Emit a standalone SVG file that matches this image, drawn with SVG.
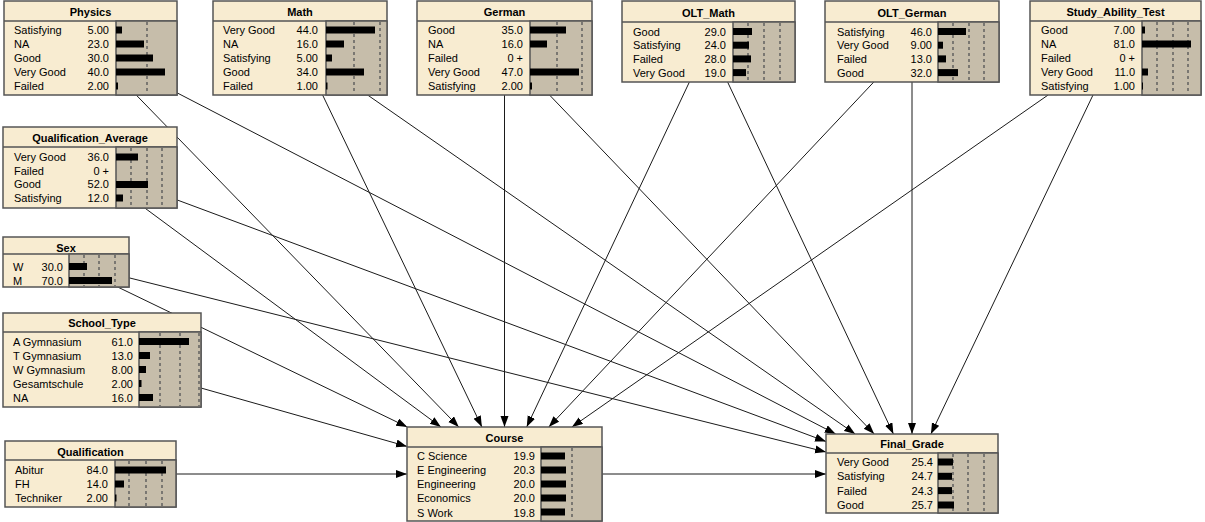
<svg xmlns="http://www.w3.org/2000/svg" width="1205" height="522" viewBox="0 0 1205 522">
<style>
text{font-family:"Liberation Sans",Arial,sans-serif;font-size:11px;fill:#000}
.t{font-weight:bold;text-anchor:middle}
.v{text-anchor:end}
.box{fill:#f8ecd1;stroke:#555;stroke-width:1.5}
.gr{fill:#c6bdaa;stroke:#555;stroke-width:1.5}
.sep{stroke:#555;stroke-width:1.5}
.d{stroke:#5a5a5a;stroke-width:1.4;stroke-dasharray:3,3}
.b{fill:#000}
.e{stroke:#1a1a1a;stroke-width:1;fill:none;marker-end:url(#ah)}
</style>
<defs>
<marker id="ah" markerUnits="userSpaceOnUse" markerWidth="12" markerHeight="9" refX="11" refY="4" orient="auto">
<path d="M0,0 L11,4 L0,8 z" fill="#000"/>
</marker>
</defs>
<rect width="1205" height="522" fill="#fff"/>
<g id="connectors">
<line class="e" x1="136.2" y1="95" x2="458.8" y2="427"/>
<line class="e" x1="322.6" y1="95" x2="481.9" y2="427"/>
<line class="e" x1="504.5" y1="95" x2="504.5" y2="427"/>
<line class="e" x1="689.4" y1="82" x2="526.7" y2="427"/>
<line class="e" x1="873.8" y1="82" x2="548.8" y2="427"/>
<line class="e" x1="1048.1" y1="95" x2="571.9" y2="427"/>
<line class="e" x1="144.8" y1="208" x2="440.9" y2="427"/>
<line class="e" x1="117.7" y1="287" x2="407.3" y2="427"/>
<line class="e" x1="201" y1="388" x2="407" y2="446.4"/>
<line class="e" x1="176" y1="474" x2="407" y2="474"/>
<line class="e" x1="177" y1="92.8" x2="835.7" y2="434"/>
<line class="e" x1="367.6" y1="95" x2="855.2" y2="434"/>
<line class="e" x1="549.5" y1="95" x2="874.2" y2="434"/>
<line class="e" x1="727.6" y1="82" x2="893.4" y2="434"/>
<line class="e" x1="912" y1="82" x2="912" y2="434"/>
<line class="e" x1="1093" y1="95" x2="930.9" y2="434"/>
<line class="e" x1="177" y1="199.9" x2="826" y2="441.5"/>
<line class="e" x1="129" y1="277.8" x2="826" y2="452"/>
<line class="e" x1="602" y1="474" x2="826" y2="474"/>
</g>

<g id="physics">
<rect class="box" x="4" y="1" width="173" height="94"/>
<line class="sep" x1="4" y1="21" x2="177" y2="21"/>
<rect class="gr" x="116" y="21" width="61" height="74"/>
<line class="d" x1="147" y1="22" x2="147" y2="94"/>
<rect class="b" x="116" y="26.5" width="6" height="7"/>
<rect class="b" x="116" y="40.5" width="28" height="7"/>
<rect class="b" x="116" y="54.5" width="37" height="7"/>
<rect class="b" x="116" y="68.5" width="49" height="7"/>
<rect class="b" x="116" y="82.5" width="2" height="7"/>
<text class="t" x="90.5" y="16">Physics</text>
<text x="14" y="34">Satisfying</text><text class="v" x="109" y="34">5.00</text>
<text x="14" y="48">NA</text><text class="v" x="109" y="48">23.0</text>
<text x="14" y="62">Good</text><text class="v" x="109" y="62">30.0</text>
<text x="14" y="76">Very Good</text><text class="v" x="109" y="76">40.0</text>
<text x="14" y="90">Failed</text><text class="v" x="109" y="90">2.00</text>
</g>

<g id="math">
<rect class="box" x="213" y="1" width="174" height="94"/>
<line class="sep" x1="213" y1="21" x2="387" y2="21"/>
<rect class="gr" x="326" y="21" width="61" height="74"/>
<line class="d" x1="354" y1="22" x2="354" y2="94"/>
<line class="d" x1="380" y1="22" x2="380" y2="94"/>
<rect class="b" x="326" y="26.5" width="49" height="7"/>
<rect class="b" x="326" y="40.5" width="18" height="7"/>
<rect class="b" x="326" y="54.5" width="6" height="7"/>
<rect class="b" x="326" y="68.5" width="38" height="7"/>
<rect class="b" x="326" y="82.5" width="1.5" height="7"/>
<text class="t" x="300" y="16">Math</text>
<text x="223" y="34">Very Good</text><text class="v" x="318" y="34">44.0</text>
<text x="223" y="48">NA</text><text class="v" x="318" y="48">16.0</text>
<text x="223" y="62">Satisfying</text><text class="v" x="318" y="62">5.00</text>
<text x="223" y="76">Good</text><text class="v" x="318" y="76">34.0</text>
<text x="223" y="90">Failed</text><text class="v" x="318" y="90">1.00</text>
</g>

<g id="german">
<rect class="box" x="417" y="1" width="175" height="94"/>
<line class="sep" x1="417" y1="21" x2="592" y2="21"/>
<rect class="gr" x="530" y="21" width="62" height="74"/>
<line class="d" x1="557" y1="22" x2="557" y2="94"/>
<line class="d" x1="582" y1="22" x2="582" y2="94"/>
<rect class="b" x="530" y="26.5" width="36" height="7"/>
<rect class="b" x="530" y="40.5" width="17" height="7"/>
<rect class="b" x="530" y="68.5" width="49" height="7"/>
<rect class="b" x="530" y="82.5" width="2" height="7"/>
<text class="t" x="504.5" y="16">German</text>
<text x="428" y="34">Good</text><text class="v" x="523" y="34">35.0</text>
<text x="428" y="48">NA</text><text class="v" x="523" y="48">16.0</text>
<text x="428" y="62">Failed</text><text class="v" x="523" y="62">0 +</text>
<text x="428" y="76">Very Good</text><text class="v" x="523" y="76">47.0</text>
<text x="428" y="90">Satisfying</text><text class="v" x="523" y="90">2.00</text>
</g>

<g id="olt_math">
<rect class="box" x="622" y="1" width="173" height="81"/>
<line class="sep" x1="622" y1="22" x2="795" y2="22"/>
<rect class="gr" x="733" y="22" width="62" height="60"/>
<line class="d" x1="748" y1="23" x2="748" y2="81"/>
<line class="d" x1="764" y1="23" x2="764" y2="81"/>
<line class="d" x1="780" y1="23" x2="780" y2="81"/>
<rect class="b" x="733" y="28" width="19" height="7"/>
<rect class="b" x="733" y="41.7" width="16" height="7"/>
<rect class="b" x="733" y="55.4" width="18" height="7"/>
<rect class="b" x="733" y="69.1" width="13" height="7"/>
<text class="t" x="708.5" y="17">OLT_Math</text>
<text x="633" y="35.5">Good</text><text class="v" x="726" y="35.5">29.0</text>
<text x="633" y="49.2">Satisfying</text><text class="v" x="726" y="49.2">24.0</text>
<text x="633" y="62.9">Failed</text><text class="v" x="726" y="62.9">28.0</text>
<text x="633" y="76.6">Very Good</text><text class="v" x="726" y="76.6">19.0</text>
</g>

<g id="olt_german">
<rect class="box" x="825" y="1" width="174" height="81"/>
<line class="sep" x1="825" y1="22" x2="999" y2="22"/>
<rect class="gr" x="938" y="22" width="61" height="60"/>
<line class="d" x1="953" y1="23" x2="953" y2="81"/>
<line class="d" x1="969" y1="23" x2="969" y2="81"/>
<line class="d" x1="984" y1="23" x2="984" y2="81"/>
<rect class="b" x="938" y="28" width="28" height="7"/>
<rect class="b" x="938" y="41.7" width="5" height="7"/>
<rect class="b" x="938" y="55.4" width="8" height="7"/>
<rect class="b" x="938" y="69.1" width="20" height="7"/>
<text class="t" x="912" y="17">OLT_German</text>
<text x="837" y="35.5">Satisfying</text><text class="v" x="932" y="35.5">46.0</text>
<text x="837" y="49.2">Very Good</text><text class="v" x="932" y="49.2">9.00</text>
<text x="837" y="62.9">Failed</text><text class="v" x="932" y="62.9">13.0</text>
<text x="837" y="76.6">Good</text><text class="v" x="932" y="76.6">32.0</text>
</g>

<g id="study_ability_test">
<rect class="box" x="1030" y="1" width="171" height="94"/>
<line class="sep" x1="1030" y1="21" x2="1201" y2="21"/>
<rect class="gr" x="1142" y="21" width="59" height="74"/>
<line class="d" x1="1157" y1="22" x2="1157" y2="94"/>
<line class="d" x1="1173" y1="22" x2="1173" y2="94"/>
<line class="d" x1="1188" y1="22" x2="1188" y2="94"/>
<rect class="b" x="1142" y="26.5" width="3" height="7"/>
<rect class="b" x="1142" y="40.5" width="49" height="7"/>
<rect class="b" x="1142" y="68.5" width="6" height="7"/>
<rect class="b" x="1142" y="82.5" width="1" height="7"/>
<text class="t" x="1115.5" y="16">Study_Ability_Test</text>
<text x="1041" y="34">Good</text><text class="v" x="1135" y="34">7.00</text>
<text x="1041" y="48">NA</text><text class="v" x="1135" y="48">81.0</text>
<text x="1041" y="62">Failed</text><text class="v" x="1135" y="62">0 +</text>
<text x="1041" y="76">Very Good</text><text class="v" x="1135" y="76">11.0</text>
<text x="1041" y="90">Satisfying</text><text class="v" x="1135" y="90">1.00</text>
</g>

<g id="qualification_average">
<rect class="box" x="3" y="127" width="174" height="81"/>
<line class="sep" x1="3" y1="147" x2="177" y2="147"/>
<rect class="gr" x="116" y="147" width="61" height="61"/>
<line class="d" x1="131" y1="148" x2="131" y2="207"/>
<line class="d" x1="147" y1="148" x2="147" y2="207"/>
<line class="d" x1="162" y1="148" x2="162" y2="207"/>
<rect class="b" x="116" y="153.5" width="22" height="7"/>
<rect class="b" x="116" y="181" width="32" height="7"/>
<rect class="b" x="116" y="194.5" width="7" height="7"/>
<text class="t" x="90" y="142">Qualification_Average</text>
<text x="14" y="161">Very Good</text><text class="v" x="109" y="161">36.0</text>
<text x="14" y="174.6">Failed</text><text class="v" x="109" y="174.6">0 +</text>
<text x="14" y="188.3">Good</text><text class="v" x="109" y="188.3">52.0</text>
<text x="14" y="202">Satisfying</text><text class="v" x="109" y="202">12.0</text>
</g>

<g id="sex">
<rect class="box" x="3" y="237" width="126" height="50"/>
<line class="sep" x1="3" y1="254" x2="129" y2="254"/>
<rect class="gr" x="69" y="254" width="60" height="33"/>
<line class="d" x1="84" y1="255" x2="84" y2="286"/>
<line class="d" x1="99" y1="255" x2="99" y2="286"/>
<line class="d" x1="115" y1="255" x2="115" y2="286"/>
<rect class="b" x="69" y="263" width="18" height="7"/>
<rect class="b" x="69" y="277" width="43" height="7"/>
<text class="t" x="66" y="251.5">Sex</text>
<text x="13" y="270.5">W</text><text class="v" x="63" y="270.5">30.0</text>
<text x="13" y="284.5">M</text><text class="v" x="63" y="284.5">70.0</text>
</g>

<g id="school_type">
<rect class="box" x="3" y="313" width="198" height="94"/>
<line class="sep" x1="3" y1="332" x2="201" y2="332"/>
<rect class="gr" x="139" y="332" width="62" height="75"/>
<line class="d" x1="160" y1="333" x2="160" y2="406"/>
<line class="d" x1="180" y1="333" x2="180" y2="406"/>
<line class="d" x1="199" y1="333" x2="199" y2="406"/>
<rect class="b" x="139" y="338" width="50" height="7"/>
<rect class="b" x="139" y="352" width="11" height="7"/>
<rect class="b" x="139" y="366" width="7" height="7"/>
<rect class="b" x="139" y="380" width="2.5" height="7"/>
<rect class="b" x="139" y="394" width="14" height="7"/>
<text class="t" x="102" y="327">School_Type</text>
<text x="13" y="345.5">A Gymnasium</text><text class="v" x="133" y="345.5">61.0</text>
<text x="13" y="359.5">T Gymnasium</text><text class="v" x="133" y="359.5">13.0</text>
<text x="13" y="373.5">W Gymnasium</text><text class="v" x="133" y="373.5">8.00</text>
<text x="13" y="387.5">Gesamtschule</text><text class="v" x="133" y="387.5">2.00</text>
<text x="13" y="401.5">NA</text><text class="v" x="133" y="401.5">16.0</text>
</g>

<g id="qualification">
<rect class="box" x="5" y="441" width="171" height="66"/>
<line class="sep" x1="5" y1="460" x2="176" y2="460"/>
<rect class="gr" x="115" y="460" width="61" height="47"/>
<line class="d" x1="129" y1="461" x2="129" y2="506"/>
<line class="d" x1="146" y1="461" x2="146" y2="506"/>
<line class="d" x1="162" y1="461" x2="162" y2="506"/>
<rect class="b" x="115" y="466.5" width="51" height="7"/>
<rect class="b" x="115" y="480.5" width="9" height="7"/>
<rect class="b" x="115" y="494.5" width="1.5" height="7"/>
<text class="t" x="90.5" y="455.5">Qualification</text>
<text x="15" y="474">Abitur</text><text class="v" x="108" y="474">84.0</text>
<text x="15" y="488">FH</text><text class="v" x="108" y="488">14.0</text>
<text x="15" y="502">Techniker</text><text class="v" x="108" y="502">2.00</text>
</g>

<g id="course">
<rect class="box" x="407" y="427" width="195" height="94"/>
<line class="sep" x1="407" y1="447" x2="602" y2="447"/>
<rect class="gr" x="541" y="447" width="61" height="74"/>
<line class="d" x1="572" y1="448" x2="572" y2="520"/>
<rect class="b" x="541" y="452.5" width="24" height="7"/>
<rect class="b" x="541" y="466.5" width="25" height="7"/>
<rect class="b" x="541" y="480.5" width="25" height="7"/>
<rect class="b" x="541" y="494.5" width="25" height="7"/>
<rect class="b" x="541" y="508.5" width="24" height="7"/>
<text class="t" x="504.5" y="441.5">Course</text>
<text x="417" y="460">C Science</text><text class="v" x="535" y="460">19.9</text>
<text x="417" y="474">E Engineering</text><text class="v" x="535" y="474">20.3</text>
<text x="417" y="488">Engineering</text><text class="v" x="535" y="488">20.0</text>
<text x="417" y="502">Economics</text><text class="v" x="535" y="502">20.0</text>
<text x="417" y="516.5">S Work</text><text class="v" x="535" y="516.5">19.8</text>
</g>

<g id="final_grade">
<rect class="box" x="826" y="434" width="172" height="79"/>
<line class="sep" x1="826" y1="453" x2="998" y2="453"/>
<rect class="gr" x="938" y="453" width="60" height="60"/>
<line class="d" x1="953" y1="454" x2="953" y2="512"/>
<line class="d" x1="968" y1="454" x2="968" y2="512"/>
<line class="d" x1="984" y1="454" x2="984" y2="512"/>
<rect class="b" x="938" y="458.5" width="15" height="7"/>
<rect class="b" x="938" y="472.8" width="14" height="7"/>
<rect class="b" x="938" y="487.1" width="14" height="7"/>
<rect class="b" x="938" y="501.5" width="16" height="7"/>
<text class="t" x="912" y="448">Final_Grade</text>
<text x="837" y="466">Very Good</text><text class="v" x="933" y="466">25.4</text>
<text x="837" y="480.3">Satisfying</text><text class="v" x="933" y="480.3">24.7</text>
<text x="837" y="494.6">Failed</text><text class="v" x="933" y="494.6">24.3</text>
<text x="837" y="509">Good</text><text class="v" x="933" y="509">25.7</text>
</g>
</svg>
